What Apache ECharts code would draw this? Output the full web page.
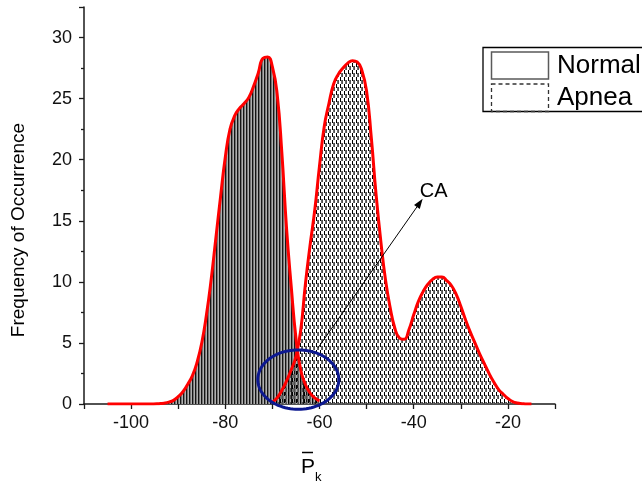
<!DOCTYPE html>
<html><head><meta charset="utf-8">
<script src="https://cdn.jsdelivr.net/npm/echarts@6/dist/echarts.min.js"></script>
<style>html,body{margin:0;padding:0;background:#fff}#c{width:642px;height:483px}</style>
</head><body><div id="c"></div>
<script>
// ---- data ----
const normalX    = [-105,-100,-96,-94,-93,-92,-91,-90,-89,-88,-87,-86,-85,-84,-83,-82,-81,-80,-79,-78,-77,-76,-75,-74,-73,-72,-71,-70,-69,-68,-67,-66,-65,-64,-63,-62,-61,-60];
const normalFreq = [0,0,0,0.03,0.07,0.15,0.3,0.6,1.0,1.6,2.3,3.4,5.0,7.3,10.2,13.6,17.0,20.2,22.5,23.6,24.2,24.6,25.1,26.0,27.1,28.3,28.4,27.6,25.4,20.6,14.4,9.6,5.4,2.8,1.6,0.9,0.5,0.25];
const apneaX     = [-70,-69,-68,-67,-66,-65,-64,-63,-62,-61,-60,-59,-58,-57,-56,-55,-54,-53,-52,-51,-50,-49,-48,-47,-46,-45,-44,-43,-42,-41,-40,-39,-38,-37,-36,-35,-34,-33,-32,-31,-30,-29,-28,-27,-26,-25,-24,-23,-22,-21,-20,-19,-18,-17,-16,-15];
const apneaFreq  = [0.15,0.5,1.1,1.9,2.8,3.9,6.0,9.8,13.0,15.9,19.5,22.7,24.6,26.2,27.0,27.5,27.9,28.1,28.0,27.3,25.6,21.8,17.2,13.4,10.2,7.9,6.2,5.4,5.3,6.1,7.3,8.4,9.2,9.8,10.2,10.4,10.4,10.1,9.7,9.0,8.0,6.9,5.9,5.0,4.1,3.3,2.5,1.8,1.2,0.8,0.45,0.2,0.08,0.03,0,0];
const seriesNames = ['Normal','Apnea'];
const yTitle = 'Frequency of Occurrence';
const annotationLabel = 'CA';

// ---- annotation geometry (data units) ----
const ellipseSpec = {cx:-64.5, cy:2.0, rx:8.6, ry:2.43};
const arrowSpec = {from:[-60.3,4.6], to:[-38.1,16.8]};
const labelSpec = [-38.7,17.4];

const FONT = '"Liberation Sans", Arial, Helvetica, sans-serif';

function makeTex(w,h,draw){const c=document.createElement('canvas');c.width=w;c.height=h;const g=c.getContext('2d');draw(g);return c;}
const normalTex = makeTex(3,1,g=>{g.fillStyle='#151515';g.fillRect(0,0,1,1);g.fillStyle='#747474';g.fillRect(1,0,1,1);g.fillStyle='#b0b0b0';g.fillRect(2,0,1,1);});
const apneaTex = makeTex(4,7,g=>{g.fillStyle='#000';g.fillRect(0,0,1,4);g.fillStyle='#6a6a6a';g.fillRect(1,3,1,4);g.fillStyle='#505050';g.fillRect(2,3,1,4);});

const pairs=(xs,ys)=>xs.map((x,i)=>[x,ys[i]]);
const normalData = pairs(normalX, normalFreq);
const apneaData = pairs(apneaX, apneaFreq);
const SMOOTH = 0.5;

const chart = echarts.init(document.getElementById('c'), null, {renderer:'canvas'});
const axisCommon = {
  axisLine:{show:true,onZero:false,lineStyle:{color:'#1a1a1a',width:1.5}},
  axisTick:{show:true,inside:false,length:5,lineStyle:{color:'#1a1a1a',width:1.3}},
  splitLine:{show:false},
  axisLabel:{color:'#111',fontSize:18,fontFamily:FONT}
};
chart.setOption({
  animation:false,
  backgroundColor:'#fff',
  grid:{left:84,top:7,right:87,bottom:79,containLabel:false,outerBoundsMode:'none'},
  xAxis:Object.assign({}, axisCommon, {
    type:'value', min:-110, max:-10, interval:10,
    axisLabel:Object.assign({}, axisCommon.axisLabel, {margin:10, formatter:v=> (v%20===0? String(v):'')})
  }),
  yAxis:Object.assign({}, axisCommon, {
    type:'value', min:0, max:32.5, interval:5,
    minorTick:{show:true,splitNumber:2,length:3,lineStyle:{color:'#1a1a1a',width:1.3}},
    axisLabel:Object.assign({}, axisCommon.axisLabel, {margin:12, formatter:v=> (v%5===0? String(v):'')})
  }),
  series:[
    {name:seriesNames[0]+' fill', type:'line', data:normalData, smooth:SMOOTH, showSymbol:false, z:1,
     lineStyle:{width:0,opacity:0}, areaStyle:{color:{image:normalTex,repeat:'repeat'},opacity:1}, silent:true},
    {name:seriesNames[1]+' fill', type:'line', data:apneaData, smooth:SMOOTH, showSymbol:false, z:2,
     lineStyle:{width:0,opacity:0}, areaStyle:{color:{image:apneaTex,repeat:'repeat'},opacity:1}, silent:true},
    {name:seriesNames[0], type:'line', data:normalData, smooth:SMOOTH, showSymbol:false, z:3,
     lineStyle:{color:'#ff0000',width:3}},
    {name:seriesNames[1], type:'line', data:apneaData, smooth:SMOOTH, showSymbol:false, z:3,
     lineStyle:{color:'#ff0000',width:3}},
    {name:'annotation', type:'custom', z:5, clip:false, silent:true,
     data:[[ellipseSpec.cx, ellipseSpec.cy]],
     renderItem:function(params, api){
       const c = api.coord([ellipseSpec.cx, ellipseSpec.cy]);
       const e = api.coord([ellipseSpec.cx+ellipseSpec.rx, ellipseSpec.cy+ellipseSpec.ry]);
       const rx = e[0]-c[0], ry = c[1]-e[1];
       const pts=[];
       for(let i=0;i<96;i++){const t=i/96*2*Math.PI;pts.push([c[0]+rx*Math.cos(t), c[1]+ry*Math.sin(t)]);}
       const a0 = api.coord(arrowSpec.from), a1 = api.coord(arrowSpec.to);
       const ang = Math.atan2(a1[1]-a0[1], a1[0]-a0[0]);
       const L=10, W=3.5;
       const bx=a1[0]-L*Math.cos(ang), by=a1[1]-L*Math.sin(ang);
       const head=[[a1[0],a1[1]],[bx+W*Math.sin(ang),by-W*Math.cos(ang)],[bx-W*Math.sin(ang),by+W*Math.cos(ang)]];
       const tp = api.coord(labelSpec);
       return {type:'group', children:[
         {type:'polygon', shape:{points:pts}, style:{fill:'none',stroke:'#0c1890',lineWidth:3}},
         {type:'line', shape:{x1:a0[0],y1:a0[1],x2:bx,y2:by}, style:{stroke:'#000',lineWidth:1}},
         {type:'polygon', shape:{points:head}, style:{fill:'#000'}},
         {type:'text', x:tp[0], y:tp[1], style:{text:annotationLabel, fill:'#000', font:'20px '+FONT, align:'left', verticalAlign:'middle'}}
       ]};
     }}
  ],
  graphic:[
    {type:'rect', shape:{x:483,y:47.5,width:200,height:64}, style:{fill:'#fff',stroke:'#000',lineWidth:1.3}, z:10},
    {type:'rect', shape:{x:491.5,y:52,width:57,height:27}, style:{fill:'none',stroke:'#5a5a5a',lineWidth:1.5}, z:11},
    {type:'rect', shape:{x:491.5,y:84,width:57,height:27.5}, style:{fill:'none',stroke:'#333',lineWidth:1.3,lineDash:[4,3]}, z:11},
    {type:'text', x:557, y:66, style:{text:seriesNames[0], fill:'#000', font:'26px '+FONT, align:'left', verticalAlign:'middle'}, z:11},
    {type:'text', x:557, y:98, style:{text:seriesNames[1], fill:'#000', font:'26px '+FONT, align:'left', verticalAlign:'middle'}, z:11},
    {type:'text', x:19, y:230, rotation:Math.PI/2, style:{text:yTitle, fill:'#000', font:'19px '+FONT, align:'center', verticalAlign:'middle'}, z:11},
    {type:'line', shape:{x1:302,y1:452.5,x2:313,y2:452.5}, style:{stroke:'#000',lineWidth:1.5}, z:11},
    {type:'text', x:301, y:467, style:{text:'P', fill:'#000', font:'21px '+FONT, align:'left', verticalAlign:'middle'}, z:11},
    {type:'text', x:315, y:477, style:{text:'k', fill:'#000', font:'13px '+FONT, align:'left', verticalAlign:'middle'}, z:11}
  ]
});
</script>
</body></html>
